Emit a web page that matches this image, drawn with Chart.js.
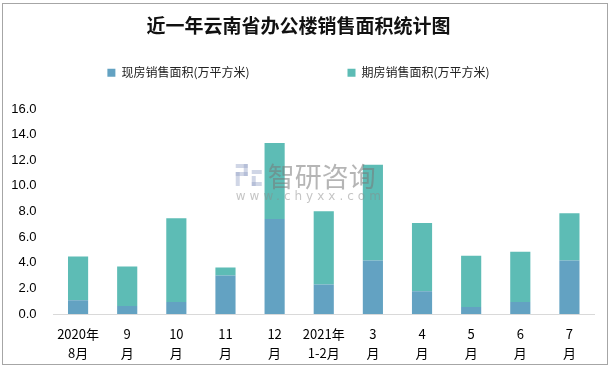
<!DOCTYPE html>
<html lang="zh-CN">
<head>
    <meta charset="UTF-8">
    <title>近一年云南省办公楼销售面积统计图</title>
    <script src="https://cdn.jsdelivr.net/npm/chart.js"></script>
    <style>
        body { margin: 0; background: #fff; }
        #box {
            position: absolute;
            left: 2px;
            top: 3px;
            width: 604px;
            height: 360px;
            border: 1px solid #a6a6a6;
        }
    </style>
</head>
<body>
    <div id="box"><canvas id="salesChart"></canvas></div>
    <script>
        // 月份标签 (两行)
        const monthLabels = [
            ['2020年', '8月'], ['9', '月'], ['10', '月'], ['11', '月'], ['12', '月'],
            ['2021年', '1-2月'], ['3', '月'], ['4', '月'], ['5', '月'], ['6', '月'], ['7', '月']
        ];
        // 现房销售面积(万平方米)
        const spotArea = [1.08, 0.62, 0.93, 3.0, 7.41, 2.31, 4.17, 1.77, 0.54, 0.93, 4.17];
        // 期房销售面积(万平方米)
        const futureArea = [3.40, 3.08, 6.55, 0.63, 5.94, 5.71, 7.48, 5.33, 4.01, 3.93, 3.70];

        const yTicks = { min: 0, max: 16, step: 2 };

        // 水印
        const watermark = {
            id: 'watermark',
            afterDatasetsDraw(chart) {
                const ctx = chart.ctx;
                const a = chart.chartArea;
                const cx = (a.left + a.right) / 2;
                ctx.save();
                // logo
                ctx.fillStyle = 'rgba(150,165,200,0.45)';
                ctx.fillRect(cx - 88, 160, 12, 4);
                ctx.fillRect(cx - 80, 160, 4, 12);
                ctx.fillRect(cx - 88, 168, 12, 4);
                ctx.fillRect(cx - 88, 168, 4, 14);
                ctx.fillRect(cx - 72, 166, 10, 4);
                ctx.fillRect(cx - 72, 172, 4, 10);
                ctx.fillRect(cx - 72, 178, 10, 4);
                ctx.fillStyle = 'rgba(120,120,120,0.55)';
                ctx.font = '27px "Noto Sans CJK SC"';
                ctx.textAlign = 'left';
                ctx.textBaseline = 'middle';
                ctx.fillText('智研咨询', cx - 56, 173);
                ctx.font = '12px "DejaVu Sans"';
                ctx.fillStyle = 'rgba(140,140,140,0.5)';
                ctx.letterSpacing = '4px';
                ctx.fillText('www.chyxx.com', cx - 88, 193);
                ctx.restore();
            }
        };

        new Chart(document.getElementById('salesChart'), {
            type: 'bar',
            data: {
                labels: monthLabels,
                datasets: [{
                    label: '现房销售面积(万平方米)\u3000\u3000\u3000\u3000\u3000\u3000\u2002',
                    data: spotArea,
                    backgroundColor: '#63a2c2'
                }, {
                    label: '期房销售面积(万平方米)',
                    data: futureArea,
                    backgroundColor: '#5dbcb5'
                }]
            },
            options: {
                responsive: true,
                maintainAspectRatio: false,
                animation: false,
                layout: { padding: { left: 0, right: 13, top: 0, bottom: 0 } },
                datasets: { bar: { categoryPercentage: 0.82, barPercentage: 0.5 } },
                plugins: {
                    title: {
                        display: true,
                        text: '近一年云南省办公楼销售面积统计图',
                        color: '#111',
                        font: { family: '"Noto Sans CJK SC"', size: 19, weight: 'bold' },
                        padding: { top: 10, bottom: 10 }
                    },
                    subtitle: {
                        // 图例与绘图区之间的空白
                        display: true,
                        text: '',
                        weight: 500,
                        font: { size: 1 },
                        padding: { top: 0, bottom: 19 }
                    },
                    legend: {
                        position: 'top',
                        labels: {
                            boxWidth: 8,
                            boxHeight: 8,
                            padding: 20,
                            color: '#222',
                            font: { family: '"Noto Sans CJK SC"', size: 12 }
                        }
                    },
                    tooltip: { enabled: false }
                },
                scales: {
                    x: {
                        stacked: true,
                        grid: { display: false, drawTicks: false },
                        border: { display: true, color: '#d9d9d9', width: 1 },
                        ticks: {
                            color: '#000',
                            padding: 11,
                            maxRotation: 0,
                            autoSkip: false,
                            font: { family: '"Noto Sans CJK SC"', size: 13, lineHeight: 1.45 }
                        },
                        afterFit: scale => { scale.height = 50; }
                    },
                    y: {
                        stacked: true,
                        min: yTicks.min,
                        max: yTicks.max,
                        grid: { display: false, drawTicks: false },
                        border: { display: false },
                        ticks: {
                            stepSize: yTicks.step,
                            color: '#000',
                            padding: 17,
                            font: { family: '"Liberation Sans"', size: 13 },
                            callback: v => v.toFixed(1)
                        },
                        afterFit: scale => { scale.width = 50.5; }
                    }
                }
            },
            plugins: [watermark]
        });
    </script>
</body>
</html>
